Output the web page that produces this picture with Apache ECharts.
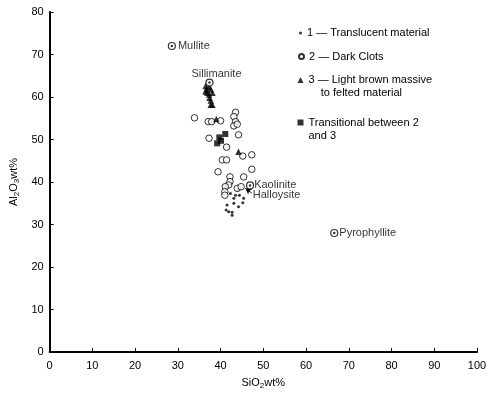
<!DOCTYPE html>
<html><head><meta charset="utf-8">
<script src="https://cdn.jsdelivr.net/npm/echarts@6/dist/echarts.min.js"></script>
<style>html,body{margin:0;padding:0;background:#fff}#c{width:500px;height:395px}</style>
</head><body><div id="c"></div>
<script>
// ---- data ----
const xTicks = [0,10,20,30,40,50,60,70,80,90,100];
const yTicks = [0,10,20,30,40,50,60,70,80];
const seriesNames = ['1 — Translucent material', '2 — Dark Clots', '3 — Light brown massive\n    to felted material', 'Transitional between 2\nand 3'];
const translucent = [[42.3,37.3],[43.1,36.2],[43.5,36.9],[44.4,36.9],[45.4,36.2],[45.2,35.1],[43.1,35.0],[41.5,34.6],[41.3,33.4],[41.9,33.0],[42.7,32.9],[42.7,32.2],[44.2,34.2],[44.1,38.1]];
const darkClots = [[33.9,55.1],[37.1,54.2],[37.9,54.2],[40.0,54.4],[43.5,56.4],[43.1,55.4],[43.5,54.2],[43.1,53.2],[43.9,53.6],[37.3,50.3],[44.2,51.1],[41.4,48.2],[45.2,46.1],[47.3,46.4],[40.4,45.2],[41.4,45.2],[47.3,43.0],[39.4,42.4],[42.2,41.2],[45.4,41.2],[42.2,40.1],[41.9,39.3],[41.1,38.9],[41.0,37.7],[41.0,36.9],[43.9,38.5],[44.8,38.9]];
const lightBrown = [[36.5,62.6],[37.3,62.4],[36.7,61.8],[37.7,61.8],[36.5,61.3],[36.9,61.0],[38.1,61.0],[37.3,60.6],[37.4,59.8],[37.7,59.2],[38.1,58.2],[37.7,58.2],[44.2,47.1],[39.0,54.8]];
const transitional = [[41.1,51.3],[39.7,50.5],[39.2,49.1],[40.1,49.7]];
const minerals = ['Mullite','Sillimanite','Kaolinite','Pyrophyllite'];
const mineralSiO2 = [28.6,37.4,46.9,66.6];
const mineralAl2O3 = [72.0,63.4,39.2,28.0];
const halloysiteLabel = [47.3,36.9];
const halloysiteArrow = [[47.3,37.4],[45.8,38.5]];

// ---- styling ----
const FONT = "'Liberation Sans', Arial, sans-serif";
const labelPlacement = {
  Mullite: {position:'right', distance:2},
  Sillimanite: {position:'top', distance:1, offset:[7,2]},
  Kaolinite: {position:'right', distance:0},
  Pyrophyllite: {position:'right', distance:1}
};
const mineralData = minerals.map((n,i)=>({name:n, value:[mineralSiO2[i], mineralAl2O3[i]], label:labelPlacement[n]}));

const chart = echarts.init(document.getElementById('c'));
const axisCommon = {
  axisLine:{show:true, onZero:false, lineStyle:{color:'#000', width:2}},
  axisTick:{show:true, inside:true, length:4, lineStyle:{color:'#000', width:1}},
  splitLine:{show:false},
  axisLabel:{color:'#000', fontSize:11, fontFamily:FONT},
  nameLocation:'middle',
  nameTextStyle:{color:'#000', fontFamily:FONT,
    rich:{a:{fontSize:11, fontFamily:FONT, color:'#000', lineHeight:14}, s:{fontSize:8, fontFamily:FONT, color:'#000', lineHeight:8, verticalAlign:'bottom'}}}
};
const legendBase = {orient:'vertical', left:297.5, padding:0, itemGap:0, selectedMode:false,
  textStyle:{color:'#000', fontSize:11, fontFamily:FONT, lineHeight:12}};
// multi-line legend entries: a leading blank line keeps the first text line level with the icon
const firstLineAtIcon = name => '\n' + name;
chart.setOption({
  animation:false,
  backgroundColor:'#fff',
  grid:{left:46, right:23, top:12, bottom:43},
  xAxis:Object.assign({}, axisCommon, {type:'value', min:xTicks[0], max:xTicks[xTicks.length-1], interval:10,
    name:'{a|SiO}{s|2}{a|wt%}', nameGap:24,
    axisLabel:Object.assign({}, axisCommon.axisLabel, {margin:8})}),
  yAxis:Object.assign({}, axisCommon, {type:'value', min:yTicks[0], max:yTicks[yTicks.length-1], interval:10,
    name:'{a|Al}{s|2}{a|O}{s|3}{a|wt%}', nameGap:23, nameRotate:90,
    axisLabel:Object.assign({}, axisCommon.axisLabel, {margin:6})}),
  legend:[
    Object.assign({}, legendBase, {top:27, left:299, data:[seriesNames[0]], itemWidth:3, itemHeight:3}),
    Object.assign({}, legendBase, {top:50.5, left:298, data:[seriesNames[1]], itemWidth:5, itemHeight:5}),
    Object.assign({}, legendBase, {top:60.5, data:[seriesNames[2]], itemWidth:6, itemHeight:6, formatter:firstLineAtIcon,
      textStyle:Object.assign({}, legendBase.textStyle, {lineHeight:13})}),
    Object.assign({}, legendBase, {top:103, data:[seriesNames[3]], itemWidth:6, itemHeight:6, formatter:firstLineAtIcon,
      textStyle:Object.assign({}, legendBase.textStyle, {lineHeight:13})})
  ],
  series:[
    {name:seriesNames[0], type:'scatter', data:translucent, symbol:'circle', symbolSize:3, itemStyle:{color:'#000'}},
    {name:seriesNames[1], type:'scatter', data:darkClots, symbol:'circle', symbolSize:6.5, itemStyle:{color:'#fff', borderColor:'#000', borderWidth:1}},
    {name:seriesNames[2], type:'scatter', data:lightBrown, symbol:'triangle', symbolSize:6.5, itemStyle:{color:'#000'}},
    {name:seriesNames[3], type:'scatter', data:transitional, symbol:'rect', symbolSize:6, itemStyle:{color:'#000'}},
    {name:'minerals', type:'scatter', data:mineralData, symbol:'circle', symbolSize:7,
      itemStyle:{color:'#fff', borderColor:'#000', borderWidth:1.2}, z:3,
      label:{show:true, formatter:'{b}', color:'#000', fontSize:11, fontFamily:FONT}},
    {name:'mineralCentres', type:'scatter', data:mineralData.map(d=>({name:d.name, value:d.value})), symbol:'circle', symbolSize:2.5, itemStyle:{color:'#000'}, z:4},
    {name:'halloysite', type:'scatter', data:[{name:'Halloysite', value:halloysiteLabel}], symbolSize:0,
      label:{show:true, position:'right', distance:1, formatter:'{b}', color:'#000', fontSize:11, fontFamily:FONT},
      markLine:{silent:true, symbol:['none','arrow'], symbolSize:[5,6], label:{show:false},
        lineStyle:{color:'#000', width:1, type:'solid'},
        data:[[{coord:halloysiteArrow[0]},{coord:halloysiteArrow[1]}]]}}
  ]
});
</script></body></html>
